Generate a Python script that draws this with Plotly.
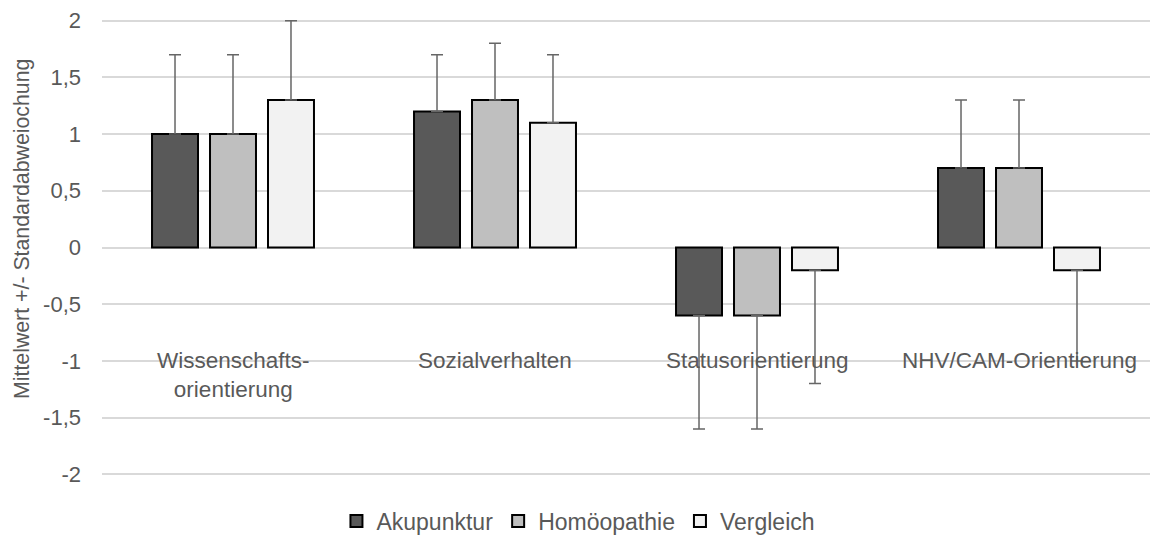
import plotly.graph_objects as go

categories = ["Wissenschafts-<br>orientierung", "Sozialverhalten", "Statusorientierung", "NHV/CAM-Orientierung"]
series_names = ["Akupunktur", "Homöopathie", "Vergleich"]
akupunktur = [1.0, 1.2, -0.6, 0.7]
homoeopathie = [1.0, 1.3, -0.6, 0.7]
vergleich = [1.3, 1.1, -0.2, -0.2]
sd_akupunktur = [0.7, 0.5, 1.0, 0.6]
sd_homoeopathie = [0.7, 0.5, 1.0, 0.6]
sd_vergleich = [0.7, 0.6, 1.0, 0.8]
y_ticks = [-2, -1.5, -1, -0.5, 0, 0.5, 1, 1.5, 2]
y_tick_labels = ["-2", "-1,5", "-1", "-0,5", "0", "0,5", "1", "1,5", "2"]
y_title = "Mittelwert +/- Standardabweiochung"
colors = ["#595959", "#bfbfbf", "#f2f2f2"]

cat_keys = ["c0", "c1", "c2", "c3"]
FONT = "Liberation Sans, Arial, sans-serif"
TXT = "#595959"

W, H = 1150, 535
ML, MR, MT, MB = 102, 0, 15, 55
plot_w = W - ML - MR
plot_h = H - MT - MB

fig = go.Figure()
for name, vals, sds, col in zip(series_names,
                                [akupunktur, homoeopathie, vergleich],
                                [sd_akupunktur, sd_homoeopathie, sd_vergleich],
                                colors):
    plus = [s if v >= 0 else 0 for v, s in zip(vals, sds)]
    minus = [s if v < 0 else 0 for v, s in zip(vals, sds)]
    fig.add_trace(go.Bar(
        x=cat_keys, y=vals, name=name,
        marker=dict(color=col, line=dict(color="#000000", width=2)),
        error_y=dict(type="data", symmetric=False, array=plus, arrayminus=minus,
                     color="#666666", thickness=1.5, width=6),
    ))

for key, lab in zip(cat_keys, categories):
    nlines = lab.count("<br>") + 1
    fig.add_annotation(x=key, y=-1, xref="x", yref="y", text=lab, showarrow=False,
                       yanchor="middle", yshift=-(nlines - 1) * 14,
                       font=dict(family=FONT, size=22.5, color=TXT))

# y-axis title as rotated text (centre at x=22px, y=229px)
fig.add_annotation(x=(22 - ML) / plot_w, y=(H - MB - 229) / plot_h,
                   xref="paper", yref="paper", text=y_title,
                   showarrow=False, textangle=-90, xanchor="center", yanchor="middle",
                   font=dict(family=FONT, size=21.3, color=TXT))

fig.update_layout(
    width=W, height=H,
    paper_bgcolor="white", plot_bgcolor="white",
    margin=dict(l=ML, r=MR, t=MT, b=MB, autoexpand=False),
    barmode="group", bargap=0.336, bargroupgap=0.207,
    font=dict(family=FONT, color=TXT),
    showlegend=True,
    legend=dict(orientation="h", xref="container", yref="container",
                x=0.503, xanchor="center", y=(H - 521) / H, yanchor="middle",
                font=dict(size=23, color=TXT), itemwidth=30, traceorder="normal"),
)

fig.update_xaxes(showticklabels=False, showgrid=False, zeroline=False, showline=False)
fig.update_yaxes(range=[-2.05, 2.05], tickvals=y_ticks, ticktext=y_tick_labels,
                 showgrid=True, gridcolor="#d9d9d9", gridwidth=1.5,
                 zeroline=True, zerolinecolor="#d9d9d9", zerolinewidth=1.5,
                 showline=False, ticks="", ticklabelstandoff=20, automargin=False,
                 tickfont=dict(family=FONT, size=22, color=TXT))

fig.write_html("out.html", config={"displayModeBar": False},
               post_script="document.body.style.margin='0px';document.body.style.padding='0px';")
